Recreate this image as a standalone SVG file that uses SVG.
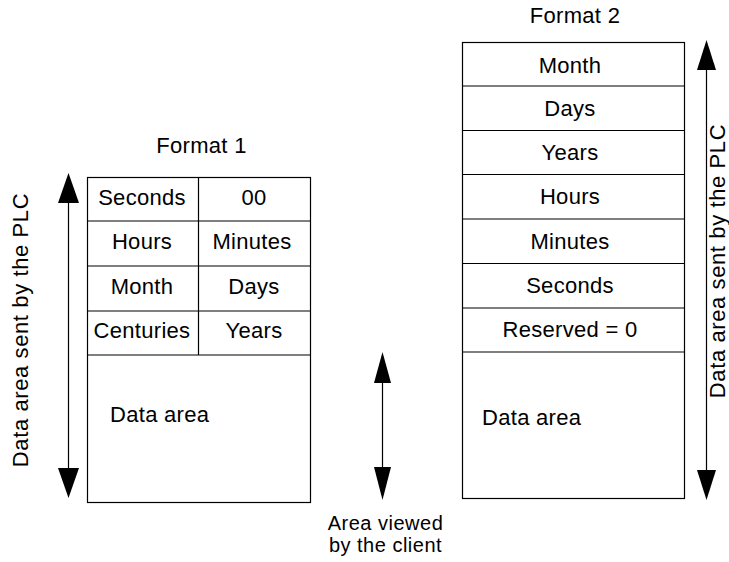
<svg xmlns="http://www.w3.org/2000/svg" width="729" height="562" viewBox="0 0 729 562">
<style>
text{font-family:"Liberation Sans",Arial,sans-serif;font-size:22px;fill:#000;letter-spacing:0.3px}
.c{text-anchor:middle}
.v{letter-spacing:0.6px}
.s{font-size:20px;letter-spacing:0.5px}
.b{fill:#fff;stroke:#000;stroke-width:1.2}
.l{stroke:#000;stroke-width:1.2;fill:none}
.a{stroke:#000;stroke-width:1.2;fill:none}
</style>
<rect width="729" height="562" fill="#fff"/>
<g id="format1">
<text class="c" x="201.5" y="153">Format 1</text>
<rect class="b" x="87.5" y="177.5" width="223" height="325"/>
<line class="l" x1="87.5" y1="221" x2="310.5" y2="221"/>
<line class="l" x1="87.5" y1="266" x2="310.5" y2="266"/>
<line class="l" x1="87.5" y1="311" x2="310.5" y2="311"/>
<line class="l" x1="87.5" y1="355" x2="310.5" y2="355"/>
<line class="l" x1="198.5" y1="177.5" x2="198.5" y2="355"/>
<text class="c" x="142" y="205">Seconds</text>
<text class="c" x="254" y="205">00</text>
<text class="c" x="142" y="248.5">Hours</text>
<text class="c" x="252" y="248.5">Minutes</text>
<text class="c" x="142" y="294">Month</text>
<text class="c" x="254" y="294">Days</text>
<text class="c" x="142" y="338">Centuries</text>
<text class="c" x="254" y="338">Years</text>
<text x="110" y="422">Data area</text>
</g>
<g id="format2">
<text class="c" x="575" y="23">Format 2</text>
<rect class="b" x="462.5" y="42.5" width="222" height="456"/>
<line class="l" x1="462.5" y1="86" x2="684.5" y2="86"/>
<line class="l" x1="462.5" y1="130.5" x2="684.5" y2="130.5"/>
<line class="l" x1="462.5" y1="174.5" x2="684.5" y2="174.5"/>
<line class="l" x1="462.5" y1="219" x2="684.5" y2="219"/>
<line class="l" x1="462.5" y1="263.5" x2="684.5" y2="263.5"/>
<line class="l" x1="462.5" y1="308" x2="684.5" y2="308"/>
<line class="l" x1="462.5" y1="352" x2="684.5" y2="352"/>
<text class="c" x="570" y="72.5">Month</text>
<text class="c" x="570" y="116">Days</text>
<text class="c" x="570" y="160">Years</text>
<text class="c" x="570" y="204">Hours</text>
<text class="c" x="570" y="249">Minutes</text>
<text class="c" x="570" y="293">Seconds</text>
<text class="c" x="570" y="337">Reserved = 0</text>
<text x="482" y="425">Data area</text>
</g>
<g id="connectors">
<g id="arrow-left">
<line class="a" x1="68.5" y1="200" x2="68.5" y2="470"/>
<polygon points="68.5,173 58,203 79,203"/>
<polygon points="68.5,498 58,468 79,468"/>
</g>
<g id="arrow-middle">
<line class="a" x1="382.5" y1="380" x2="382.5" y2="470"/>
<polygon points="382.5,352 374,383 391,383"/>
<polygon points="382.5,500 374,467 391,467"/>
</g>
<g id="arrow-right">
<line class="a" x1="706.5" y1="68" x2="706.5" y2="472"/>
<polygon points="706.5,40 697,70 716,70"/>
<polygon points="706.5,500 697,470 716,470"/>
</g>
</g>
<g id="labels">
<text class="c v" transform="translate(28,330) rotate(-90)">Data area sent by the PLC</text>
<text class="c v" transform="translate(725,261) rotate(-90)">Data area sent by the PLC</text>
<text class="c s" x="385.5" y="530">Area viewed</text>
<text class="c s" x="385.5" y="552">by the client</text>
</g>
</svg>
